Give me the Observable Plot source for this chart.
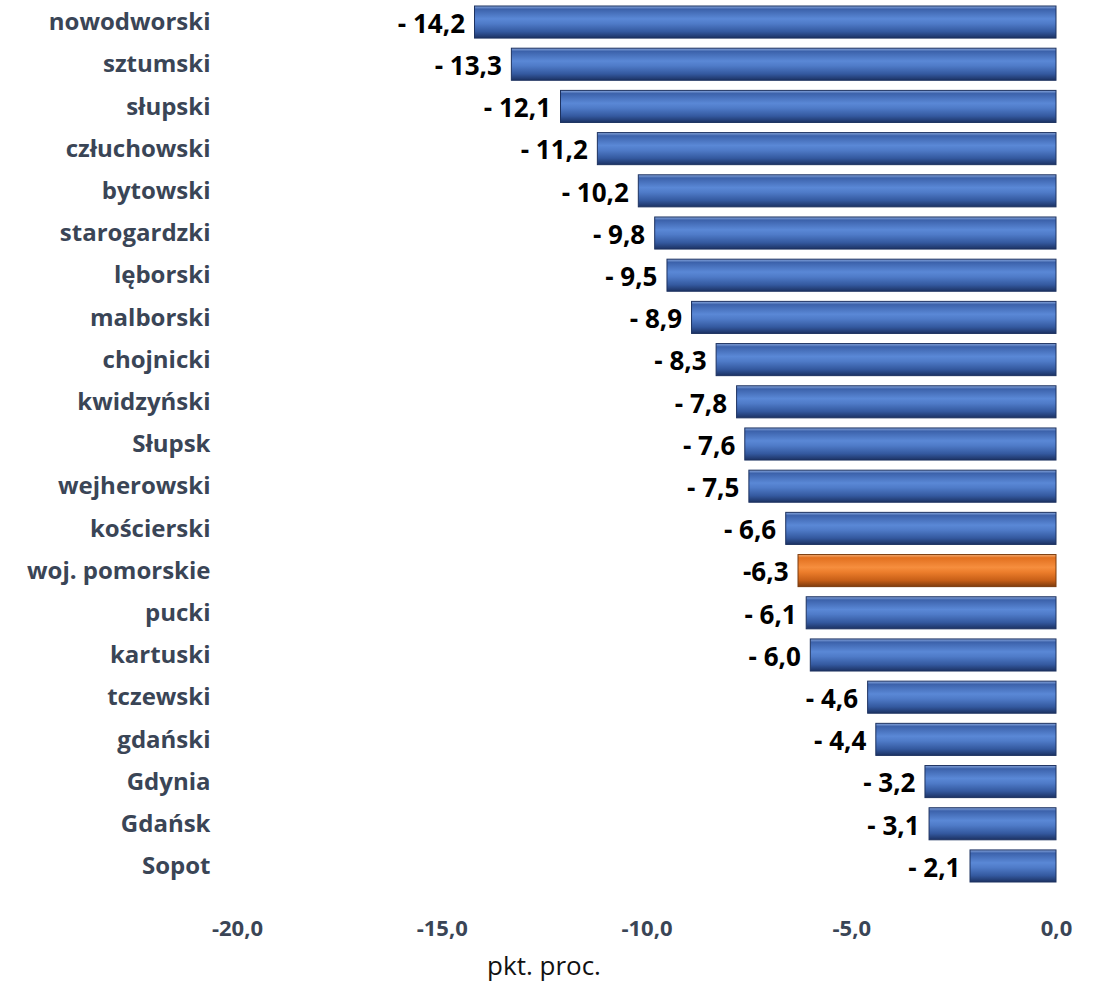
<!DOCTYPE html>
<html>
<head>
<meta charset="utf-8">
<script src="https://cdn.jsdelivr.net/npm/d3@7"></script>
<script src="https://cdn.jsdelivr.net/npm/@observablehq/plot@0.6"></script>
<style>
  html, body { margin: 0; padding: 0; background: #fff; }
  #chart svg { display: block; }
</style>
</head>
<body>
<div id="chart"></div>
<script>
const regions = ["nowodworski","sztumski","słupski","człuchowski","bytowski","starogardzki","lęborski","malborski","chojnicki","kwidzyński","Słupsk","wejherowski","kościerski","woj. pomorskie","pucki","kartuski","tczewski","gdański","Gdynia","Gdańsk","Sopot"];
const values = [-14.2,-13.3,-12.1,-11.2,-10.2,-9.8,-9.5,-8.9,-8.3,-7.8,-7.6,-7.5,-6.6,-6.3,-6.1,-6.0,-4.6,-4.4,-3.2,-3.1,-2.1];
const highlight = "woj. pomorskie";
const xTicks = [-20,-15,-10,-5,0];
const xLabel = "pkt. proc.";

const data = regions.map((r, i) => ({region: r, value: values[i]}));
const fmt = v => v.toFixed(1).replace(".", ",");
const valueLabel = d => d.region === highlight ? fmt(d.value) : "- " + fmt(Math.abs(d.value));

const font = "'Open Sans', sans-serif";

const chart = Plot.plot({
  width: 1107,
  height: 990,
  marginLeft: 237,
  marginRight: 51,
  marginTop: 6,
  marginBottom: 108,
  style: {fontFamily: font, background: "#fff"},
  x: {domain: [-20, 0], ticks: xTicks, tickFormat: fmt},
  y: {domain: regions, paddingInner: 0.24, paddingOuter: 0, round: false},
  marks: [
    Plot.ruleX([0], {stroke: "#d4d4d4", strokeWidth: 1.5, y1: regions[0], y2: regions[regions.length-1], insetTop: -21, insetBottom: -21}),
    Plot.barX(data.filter(d => d.region !== highlight), {x: "value", y: "region", fill: "url(#gradBlue)", stroke: "#1d3260", strokeWidth: 1}),
    Plot.barX(data.filter(d => d.region === highlight), {x: "value", y: "region", fill: "url(#gradOrange)", stroke: "#7a3a0c", strokeWidth: 1}),
    Plot.text(data, {x: "value", y: "region", text: valueLabel, textAnchor: "end", dx: -10, dy: 2, fontSize: 26, fontWeight: "bold", fill: "#000"}),
    Plot.axisY({tickSize: 0, tickPadding: 27, fontSize: 24, fontWeight: "bold", color: "#3a4556", label: null}),
    Plot.axisX({ticks: xTicks, tickFormat: fmt, tickSize: 0, tickPadding: 38, fontSize: 22, fontWeight: "bold", color: "#3a4556", label: null}),
    Plot.text([xLabel], {frameAnchor: "bottom", dx: -103, dy: 92, fontSize: 26, fill: "#111", text: d => d})
  ]
});

const svgNS = "http://www.w3.org/2000/svg";
const defs = document.createElementNS(svgNS, "defs");
function grad(id, stops) {
  const g = document.createElementNS(svgNS, "linearGradient");
  g.setAttribute("id", id);
  g.setAttribute("x1", "0"); g.setAttribute("y1", "0");
  g.setAttribute("x2", "0"); g.setAttribute("y2", "1");
  for (const [o, c] of stops) {
    const s = document.createElementNS(svgNS, "stop");
    s.setAttribute("offset", o);
    s.setAttribute("stop-color", c);
    g.appendChild(s);
  }
  defs.appendChild(g);
}
grad("gradBlue", [["0%","#8aa9df"],["10%","#3c62ab"],["40%","#5a88d6"],["55%","#4f7bc8"],["80%","#34599f"],["100%","#1c3263"]]);
grad("gradOrange", [["0%","#f7b27a"],["10%","#e2701f"],["40%","#f68e3e"],["55%","#ec7d2b"],["80%","#c85f17"],["100%","#7e3c0d"]]);
chart.insertBefore(defs, chart.firstChild);

document.getElementById("chart").appendChild(chart);
</script>
</body>
</html>
